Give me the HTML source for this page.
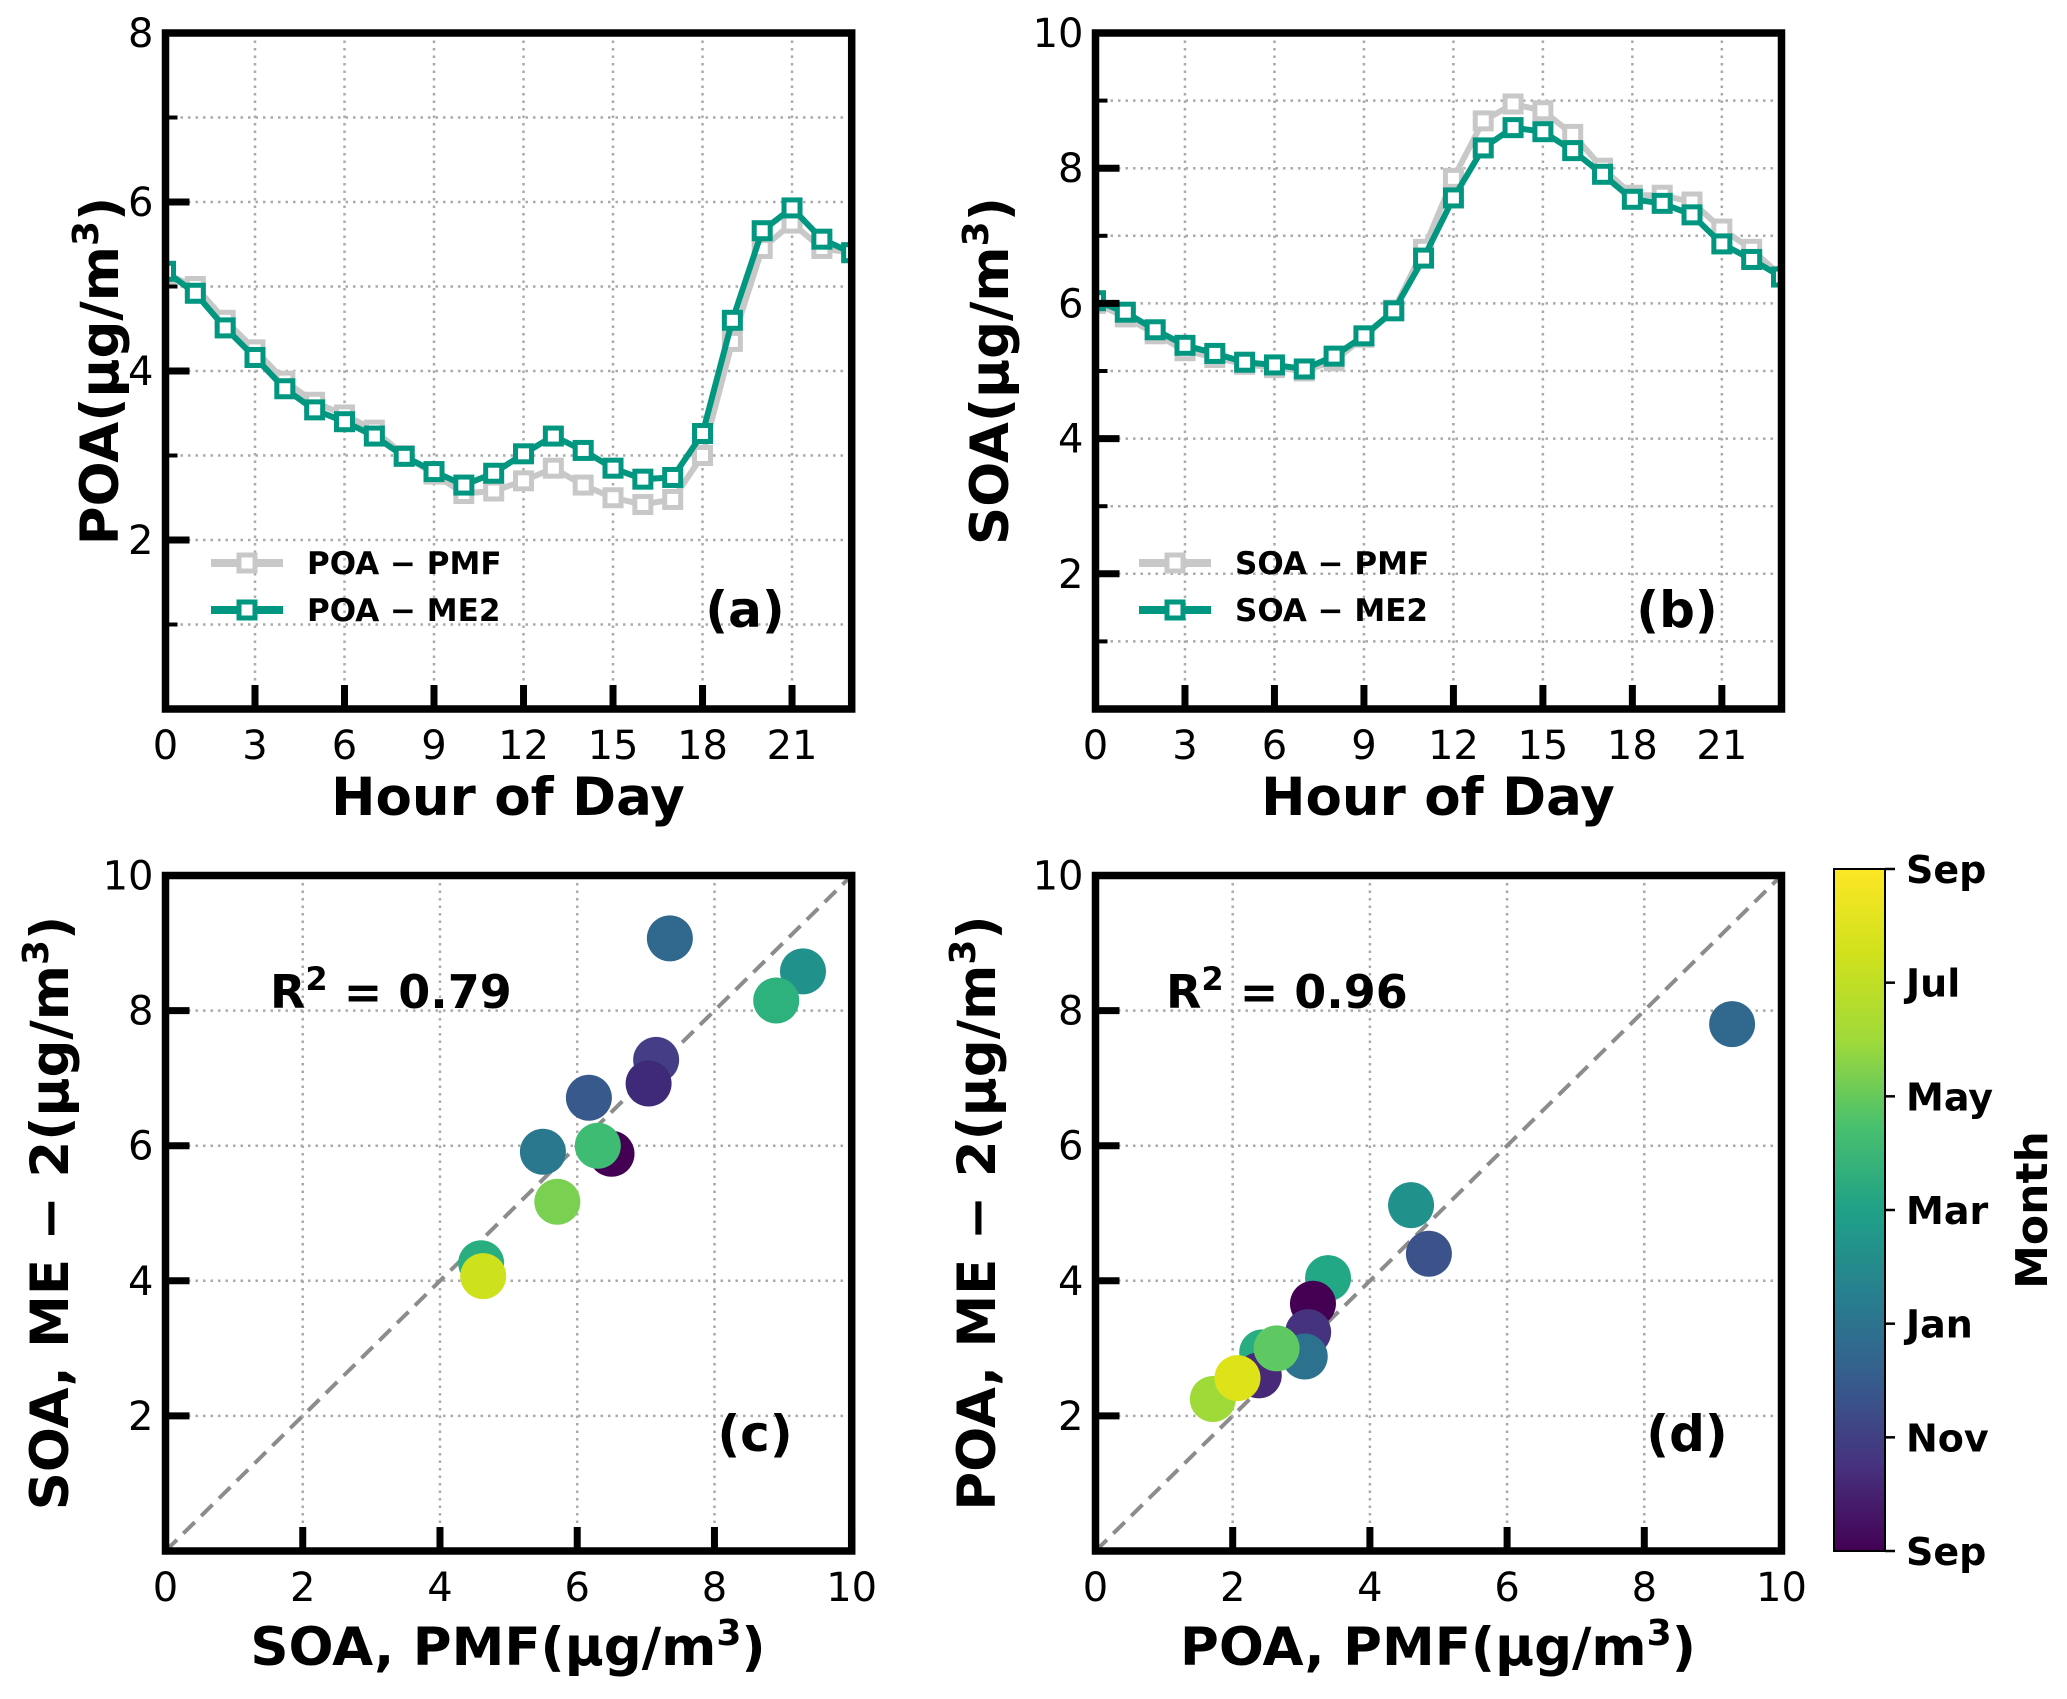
<!DOCTYPE html>
<html><head><meta charset="utf-8"><style>
html,body{margin:0;padding:0;background:#fff;}
svg{display:block;font-family:"DejaVu Sans","Liberation Sans",sans-serif;}
</style></head><body>
<svg id="fig" width="2067" height="1699" viewBox="0 0 2067 1699" xmlns="http://www.w3.org/2000/svg">
<defs>
<linearGradient id="vir" x1="0" y1="1" x2="0" y2="0">
<stop offset="0" stop-color="#440154"/><stop offset="0.125" stop-color="#46327e"/><stop offset="0.25" stop-color="#365c8d"/><stop offset="0.375" stop-color="#277f8e"/><stop offset="0.5" stop-color="#1fa187"/><stop offset="0.625" stop-color="#4ac16d"/><stop offset="0.75" stop-color="#a0da39"/><stop offset="0.875" stop-color="#d0e11c"/><stop offset="1" stop-color="#fde725"/>
</linearGradient>
</defs>
</svg>
<script>
const hours = [0,1,2,3,4,5,6,7,8,9,10,11,12,13,14,15,16,17,18,19,20,21,22,23];
const poaPMF = [5.15,5.0,4.6,4.25,3.88,3.63,3.48,3.3,3.0,2.78,2.55,2.58,2.7,2.85,2.65,2.5,2.42,2.48,3.0,4.35,5.45,5.75,5.45,5.4];
const poaME2 = [5.18,4.92,4.51,4.16,3.79,3.54,3.40,3.23,2.99,2.81,2.65,2.79,3.02,3.23,3.06,2.85,2.72,2.74,3.26,4.60,5.66,5.93,5.56,5.40];
const soaPMF = [6.0,5.8,5.55,5.3,5.2,5.1,5.05,5.0,5.15,5.5,5.9,6.8,7.85,8.7,8.95,8.85,8.5,8.0,7.6,7.6,7.5,7.1,6.8,6.4];
const soaME2 = [6.04,5.87,5.61,5.38,5.26,5.13,5.09,5.03,5.22,5.52,5.89,6.67,7.56,8.30,8.6,8.54,8.26,7.91,7.54,7.48,7.31,6.88,6.65,6.39];
const hourTicks = [0,3,6,9,12,15,18,21];
const scTicks = [0,2,4,6,8,10];
const soaScX = [7.35,9.29,8.9,7.15,7.04,6.17,5.5,6.5,6.3,5.71,4.6,4.63];
const soaScY = [9.07,8.58,8.15,7.27,6.92,6.71,5.91,5.88,6.0,5.17,4.26,4.07];
const soaScC = ["#31688e","#21918c","#2db27d","#433e85","#3e2a78","#38598c","#2a788e","#440154","#3fbc73","#7ad151","#29af7f","#cde11d"];
const poaScX = [9.28,4.6,4.86,3.39,3.17,3.1,2.43,2.38,3.05,2.64,1.71,2.07];
const poaScY = [7.80,5.12,4.40,4.04,3.66,3.24,2.94,2.6,2.88,3.0,2.25,2.56];
const poaScC = ["#31688e","#21918c","#3b528b","#22a884","#440154","#46337f","#27ad81","#482878","#2c728e","#5ec962","#a0da39","#dde318"];
const monthLabels = ["Sep","Nov","Jan","Mar","May","Jul","Sep"];

const NS="http://www.w3.org/2000/svg";
const svg=document.getElementById('fig');
function el(tag,attrs,parent){const e=document.createElementNS(NS,tag);for(const k in attrs)e.setAttribute(k,attrs[k]);(parent||svg).appendChild(e);return e;}
function txt(s,attrs,parent){const e=el('text',attrs,parent);e.textContent=s;return e;}

function makeAxes(name,L,R,T,B,x0,x1,y0,y1){
  const g=el('g',{});
  
  
  return {g,L,R,T,B,sx:v=>L+(v-x0)/(x1-x0)*(R-L),sy:v=>B-(v-y0)/(y1-y0)*(B-T)};
}
function grid(ax,xs,ys){
  xs.forEach(v=>{const l=el('line',{x1:ax.sx(v),x2:ax.sx(v),y1:ax.T,y2:ax.B,stroke:'#aaa','stroke-width':2.5,'stroke-dasharray':'2.5 5'},ax.g);
    });
  ys.forEach(v=>{const l=el('line',{x1:ax.L,x2:ax.R,y1:ax.sy(v),y2:ax.sy(v),stroke:'#aaa','stroke-width':2.5,'stroke-dasharray':'2.5 5'},ax.g);
    });
}
function frame(ax,xt,yt,yminor,xlabels,ylabels){
  xt.forEach((v,i)=>{const x=ax.sx(v);
    const t=el('line',{x1:x,x2:x,y1:ax.B,y2:ax.B-24,stroke:'#000','stroke-width':7},ax.g);
    
    const l=txt(xlabels[i],{x:x,y:ax.B+50,'text-anchor':'middle','font-size':40},ax.g);
    });
  yt.forEach((v,i)=>{const y=ax.sy(v);
    const t=el('line',{x1:ax.L,x2:ax.L+24,y1:y,y2:y,stroke:'#000','stroke-width':7},ax.g);
    
    const l=txt(ylabels[i],{x:ax.L-12,y:y+14,'text-anchor':'end','font-size':40},ax.g);
    });
  yminor.forEach(v=>{const y=ax.sy(v);
    const t=el('line',{x1:ax.L,x2:ax.L+12,y1:y,y2:y,stroke:'#000','stroke-width':4},ax.g);
    });
  const r=el('rect',{x:ax.L,y:ax.T,width:ax.R-ax.L,height:ax.B-ax.T,fill:'none',stroke:'#000','stroke-width':7.5},ax.g);
  
}
function series(ax,xs,ys,color,name){
  const pts=xs.map((x,i)=>ax.sx(x)+','+ax.sy(ys[i])).join(' ');
  const cp=el('clipPath',{id:'cp'+name},ax.g);
  el('rect',{x:ax.L,y:ax.T,width:ax.R-ax.L,height:ax.B-ax.T},cp);
  const g=el('g',{'clip-path':'url(#cp'+name+')'},ax.g);
  
  const pl=el('polyline',{points:pts,fill:'none',stroke:color,'stroke-width':6,'stroke-linejoin':'round'},g);
  
  xs.forEach((x,i)=>{const m=el('rect',{x:ax.sx(x)-8,y:ax.sy(ys[i])-8,width:16,height:16,fill:'#fff',stroke:color,'stroke-width':5},g);
    });
}
function legend(ax,x,y,color,label){
  const g=el('g',{},ax.g);
  el('line',{x1:x,x2:x+72,y1:y,y2:y,stroke:color,'stroke-width':8},g);
  el('rect',{x:x+28,y:y-8,width:16,height:16,fill:'#fff',stroke:color,'stroke-width':5},g);
  txt(label,{x:x+96,y:y+11,'font-size':31,'font-weight':'bold'},g);
}
function vlabel(s,x,y,parent,name){const t=txt('',{x:x,y:y,'text-anchor':'middle','font-size':53,'font-weight':'bold',transform:`rotate(-90 ${x} ${y})`},parent);
  t.innerHTML=s;return t;}
function hlabel(s,x,y,parent,name){const t=txt('',{x:x,y:y,'text-anchor':'middle','font-size':53,'font-weight':'bold'},parent);
  t.innerHTML=s;return t;}
const unit='(μg/m<tspan dy="-20" font-size="36">3</tspan><tspan dy="20">)</tspan>';

// Panel a
const A=makeAxes('panel-a',165.5,851.7,33,709,0,23,0,8);
grid(A,[3,6,9,12,15,18,21],[1,2,3,4,5,6,7]);
series(A,hours,poaPMF,'#c8c8c8','poa-pmf');
series(A,hours,poaME2,'#00967f','poa-me2');
frame(A,hourTicks,[2,4,6,8],[1,3,5,7],hourTicks.map(String),['2','4','6','8']);
legend(A,211,563,'#c8c8c8','POA − PMF');
legend(A,211,610,'#00967f','POA − ME2');
{const t=txt('(a)',{x:745,y:627,'text-anchor':'middle','font-size':50,'font-weight':'bold'},A.g);}
vlabel('POA'+unit,118,371,A.g,'y-axis-title');
hlabel('Hour of Day',508,815,A.g,'x-axis-title');

// Panel b
const Bx=makeAxes('panel-b',1095.5,1781.5,33,709,0,23,0,10);
grid(Bx,[3,6,9,12,15,18,21],[1,2,3,4,5,6,7,8,9]);
series(Bx,hours,soaPMF,'#c8c8c8','soa-pmf');
series(Bx,hours,soaME2,'#00967f','soa-me2');
frame(Bx,hourTicks,[2,4,6,8,10],[1,3,5,7,9],hourTicks.map(String),['2','4','6','8','10']);
legend(Bx,1139,563,'#c8c8c8','SOA − PMF');
legend(Bx,1139,610,'#00967f','SOA − ME2');
{const t=txt('(b)',{x:1677,y:627,'text-anchor':'middle','font-size':50,'font-weight':'bold'},Bx.g);}
vlabel('SOA'+unit,1008,371,Bx.g,'y-axis-title');
hlabel('Hour of Day',1438,815,Bx.g,'x-axis-title');

function scatter(ax,xs,ys,cs,name){
  const d=el('line',{x1:ax.sx(0),y1:ax.sy(0),x2:ax.sx(10),y2:ax.sy(10),stroke:'#8c8c8c','stroke-width':4,'stroke-dasharray':'16 9'},ax.g);
  
  xs.forEach((x,i)=>{const c=el('circle',{cx:ax.sx(x),cy:ax.sy(ys[i]),r:23,fill:cs[i]},ax.g);
    });
}
// Panel c
const C=makeAxes('panel-c',165.5,851.7,875.5,1551,0,10,0,10);
grid(C,[2,4,6,8],[2,4,6,8]);
scatter(C,soaScX,soaScY,soaScC,'soa');
frame(C,scTicks,[2,4,6,8,10],[],scTicks.map(String),['2','4','6','8','10']);
{const t=txt('',{x:270,y:1008,'font-size':46,'font-weight':'bold'},C.g);t.innerHTML='R<tspan dy="-18" font-size="32">2</tspan><tspan dy="18"> = 0.79</tspan>';}
{const t=txt('(c)',{x:755,y:1451,'text-anchor':'middle','font-size':50,'font-weight':'bold'},C.g);}
vlabel('SOA, ME − 2'+unit,68,1213,C.g,'y-axis-title');
hlabel('SOA, PMF'+unit,508,1665,C.g,'x-axis-title');

// Panel d
const D=makeAxes('panel-d',1095.5,1781.5,875.5,1551,0,10,0,10);
grid(D,[2,4,6,8],[2,4,6,8]);
scatter(D,poaScX,poaScY,poaScC,'poa');
frame(D,scTicks,[2,4,6,8,10],[],scTicks.map(String),['2','4','6','8','10']);
{const t=txt('',{x:1166,y:1008,'font-size':46,'font-weight':'bold'},D.g);t.innerHTML='R<tspan dy="-18" font-size="32">2</tspan><tspan dy="18"> = 0.96</tspan>';}
{const t=txt('(d)',{x:1687,y:1451,'text-anchor':'middle','font-size':50,'font-weight':'bold'},D.g);}
vlabel('POA, ME − 2'+unit,995,1213,D.g,'y-axis-title');
hlabel('POA, PMF'+unit,1438,1665,D.g,'x-axis-title');

// Colorbar
const cb=el('g',{});


el('rect',{x:1834,y:869,width:51,height:682,fill:'url(#vir)',stroke:'#000','stroke-width':2},cb);
monthLabels.forEach((m,i)=>{const y=1551-i*(682/6);
  const t=el('line',{x1:1885,x2:1895,y1:y,y2:y,stroke:'#000','stroke-width':2.5},cb);
  
  const l=txt(m,{x:1906,y:y+14,'font-size':38,'font-weight':'bold'},cb);
  });
{const t=txt('Month',{x:2047,y:1210,'text-anchor':'middle','font-size':44,'font-weight':'bold',transform:'rotate(-90 2047 1210)'},cb);}
</script>
</body></html>
